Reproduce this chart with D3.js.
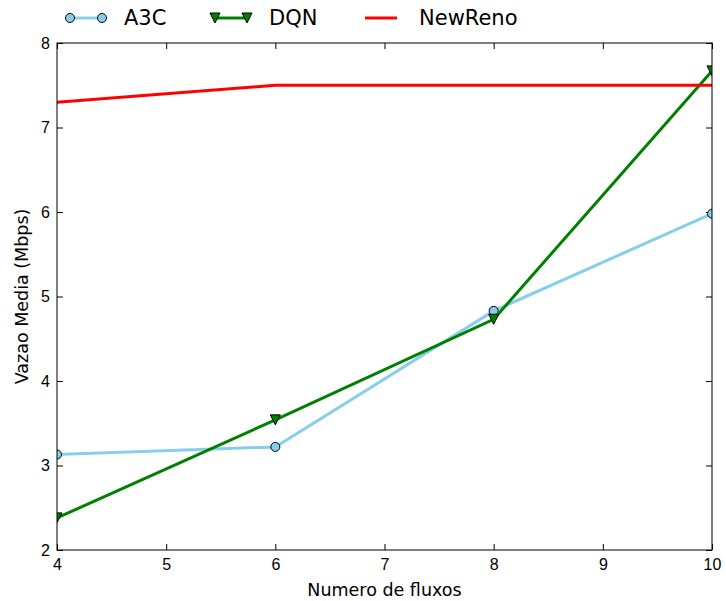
<!DOCTYPE html>
<html>
<head>
<meta charset="utf-8">
<script src="https://cdn.jsdelivr.net/npm/d3@7"></script>
<style>
  body { margin: 0; background: #fff; }
  svg { font-family: "DejaVu Sans", sans-serif; }
</style>
</head>
<body>
<svg id="chart" width="726" height="601"></svg>
<script>
const flows = [4, 6, 8, 10];
const a3c = [3.13, 3.22, 4.83, 5.98];
const dqn = [2.38, 3.54, 4.73, 7.67];
const newReno = [7.3, 7.5, 7.5, 7.5];
const xTicks = [4, 5, 6, 7, 8, 9, 10];
const yTicks = [2, 3, 4, 5, 6, 7, 8];

const svg = d3.select("#chart");
const margin = { left: 57, right: 14, top: 43, bottom: 51 };
const width = +svg.attr("width");
const height = +svg.attr("height");
const plotW = width - margin.left - margin.right;
const plotH = height - margin.top - margin.bottom;

const x = d3.scaleLinear().domain([4, 10]).range([margin.left, margin.left + plotW]);
const y = d3.scaleLinear().domain([2, 8]).range([margin.top + plotH, margin.top]);

svg.append("clipPath").attr("id", "clip")
  .append("rect")
  .attr("x", margin.left).attr("y", margin.top)
  .attr("width", plotW).attr("height", plotH);

const tickLen = 6;
const axisStyle = (g) => {
  g.select(".domain").remove();
  g.selectAll("line").attr("stroke", "#000").attr("stroke-width", 1);
  g.selectAll("text").attr("fill", "#000").style("font-size", "16px");
};

// bottom + top
svg.append("g")
  .attr("transform", `translate(0,${margin.top + plotH})`)
  .call(d3.axisBottom(x).tickValues(xTicks).tickFormat(d3.format("d")).tickSizeInner(-tickLen).tickPadding(9))
  .call(axisStyle);
svg.append("g")
  .attr("transform", `translate(0,${margin.top})`)
  .call(d3.axisTop(x).tickValues(xTicks).tickSizeInner(-tickLen).tickFormat(""))
  .call(axisStyle);
// left + right
svg.append("g")
  .attr("transform", `translate(${margin.left},0)`)
  .call(d3.axisLeft(y).tickValues(yTicks).tickFormat(d3.format("d")).tickSizeInner(-tickLen).tickPadding(7))
  .call(axisStyle);
svg.append("g")
  .attr("transform", `translate(${margin.left + plotW},0)`)
  .call(d3.axisRight(y).tickValues(yTicks).tickSizeInner(-tickLen).tickFormat(""))
  .call(axisStyle);

const series = [
  { name: "A3C", values: a3c, color: "#87ceeb", marker: "circle" },
  { name: "DQN", values: dqn, color: "#008000", marker: "triangle" },
  { name: "NewReno", values: newReno, color: "#ff0000", marker: null }
];

const line = d3.line().x((d) => x(d[0])).y((d) => y(d[1]));
const plot = svg.append("g").attr("clip-path", "url(#clip)");

function drawMarker(g, kind, cx, cy, color) {
  if (kind === "circle") {
    g.append("circle").attr("cx", cx).attr("cy", cy).attr("r", 4.5)
      .attr("fill", color).attr("stroke", "#000").attr("stroke-width", 1);
  } else if (kind === "triangle") {
    const s = 5;
    g.append("path")
      .attr("d", `M${cx - s},${cy - s}L${cx + s},${cy - s}L${cx},${cy + s}Z`)
      .attr("fill", color).attr("stroke", "#000").attr("stroke-width", 1);
  }
}

series.forEach((s) => {
  const pts = flows.map((f, i) => [f, s.values[i]]);
  plot.append("path").datum(pts)
    .attr("d", line)
    .attr("fill", "none")
    .attr("stroke", s.color)
    .attr("stroke-width", 3);
  pts.forEach((p) => drawMarker(plot, s.marker, x(p[0]), y(p[1]), s.color));
});

// frame
svg.append("rect")
  .attr("x", margin.left).attr("y", margin.top)
  .attr("width", plotW).attr("height", plotH)
  .attr("fill", "none").attr("stroke", "#000").attr("stroke-width", 1);

// axis labels
svg.append("text")
  .attr("x", margin.left + plotW / 2).attr("y", 596)
  .attr("text-anchor", "middle").style("font-size", "17.5px")
  .text("Numero de fluxos");
svg.append("text")
  .attr("transform", `translate(28,${margin.top + plotH / 2}) rotate(-90)`)
  .attr("text-anchor", "middle").style("font-size", "17.5px")
  .text("Vazao Media (Mbps)");

// legend
const legendX = [70, 215, 365];
const legend = svg.append("g");
series.forEach((s, i) => {
  const lx = legendX[i], ly = 18;
  legend.append("line")
    .attr("x1", lx).attr("x2", lx + 32).attr("y1", ly).attr("y2", ly)
    .attr("stroke", s.color).attr("stroke-width", 3);
  drawMarker(legend, s.marker, lx, ly, s.color);
  drawMarker(legend, s.marker, lx + 32, ly, s.color);
  legend.append("text")
    .attr("x", lx + 54).attr("y", ly + 7)
    .style("font-size", "21px")
    .text(s.name);
});
</script>
</body>
</html>
